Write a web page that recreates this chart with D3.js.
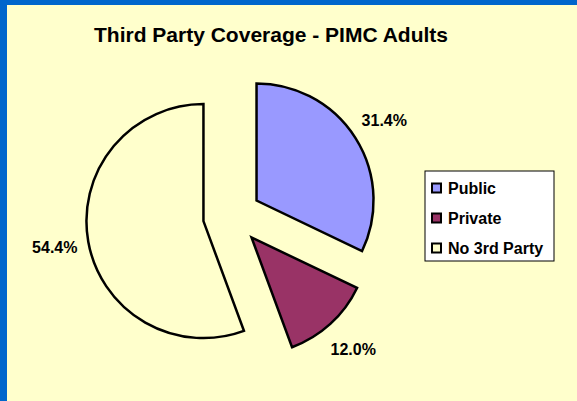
<!DOCTYPE html>
<html>
<head>
<meta charset="utf-8">
<script src="https://cdn.jsdelivr.net/npm/d3@7"></script>
<style>
  body { margin: 0; background: #FFFFCC; }
  svg { display: block; font-family: "Liberation Sans", Arial, sans-serif; }
</style>
</head>
<body>
<svg width="577" height="401"></svg>
<script>
const title = 'Third Party Coverage - PIMC Adults';
const categories = ['Public', 'Private', 'No 3rd Party'];
const values = [31.4, 12.0, 54.4];
const colours = ['#9999FF', '#993366', '#FFFFCC'];

const svg = d3.select('svg');
const W = 577, H = 401;

// frame: blue strip top + left
svg.append('rect').attr('width', W).attr('height', H).attr('fill', '#0066CC');
svg.append('rect').attr('x', 7).attr('y', 5).attr('width', W - 7).attr('height', H - 5).attr('fill', '#FFFFCC');

svg.append('text')
    .attr('x', 271).attr('y', 42)
    .attr('text-anchor', 'middle')
    .attr('font-size', 21).attr('font-weight', 'bold')
    .text(title);

const cx = 232, cy = 216, radius = 117, explode = 29, labelR = 151;

const data = categories.map((c, i) => ({ name: c, value: values[i], colour: colours[i] }));
const pie = d3.pie().value(d => d.value).sort(null);
const arc = d3.arc().innerRadius(0).outerRadius(radius);
const arcs = pie(data);

const g = svg.append('g').attr('transform', `translate(${cx},${cy})`);

function dir(d) {
    const a = (d.startAngle + d.endAngle) / 2;
    return [Math.sin(a), -Math.cos(a)];
}

const slices = g.selectAll('.slice')
    .data(arcs)
    .enter()
    .append('g')
    .attr('class', 'slice')
    .attr('transform', d => {
        const [dx, dy] = dir(d);
        return `translate(${dx * explode},${dy * explode})`;
    });

slices.append('path')
    .attr('d', arc)
    .attr('fill', d => d.data.colour)
    .attr('stroke', '#000')
    .attr('stroke-width', 2.5)
    .attr('stroke-linejoin', 'miter');

slices.append('text')
    .attr('x', d => dir(d)[0] * labelR)
    .attr('y', d => dir(d)[1] * labelR)
    .attr('text-anchor', 'middle')
    .attr('dominant-baseline', 'central')
    .attr('font-size', 16).attr('font-weight', 'bold')
    .text(d => d.data.value.toFixed(1) + '%');

// legend
const legend = svg.append('g').attr('transform', 'translate(425,171)');
legend.append('rect')
    .attr('width', 129).attr('height', 90)
    .attr('fill', '#fff')
    .attr('stroke', '#000').attr('stroke-width', 1);

const rows = legend.selectAll('.row')
    .data(data)
    .enter()
    .append('g')
    .attr('class', 'row')
    .attr('transform', (d, i) => `translate(7,${17 + i * 30})`);

rows.append('rect')
    .attr('x', 0).attr('y', -4.5)
    .attr('width', 9).attr('height', 9)
    .attr('fill', d => d.colour)
    .attr('stroke', '#000').attr('stroke-width', 2);

rows.append('text')
    .attr('x', 16).attr('y', 0)
    .attr('dominant-baseline', 'central')
    .attr('font-size', 16).attr('font-weight', 'bold')
    .text(d => d.name);
</script>
</body>
</html>
